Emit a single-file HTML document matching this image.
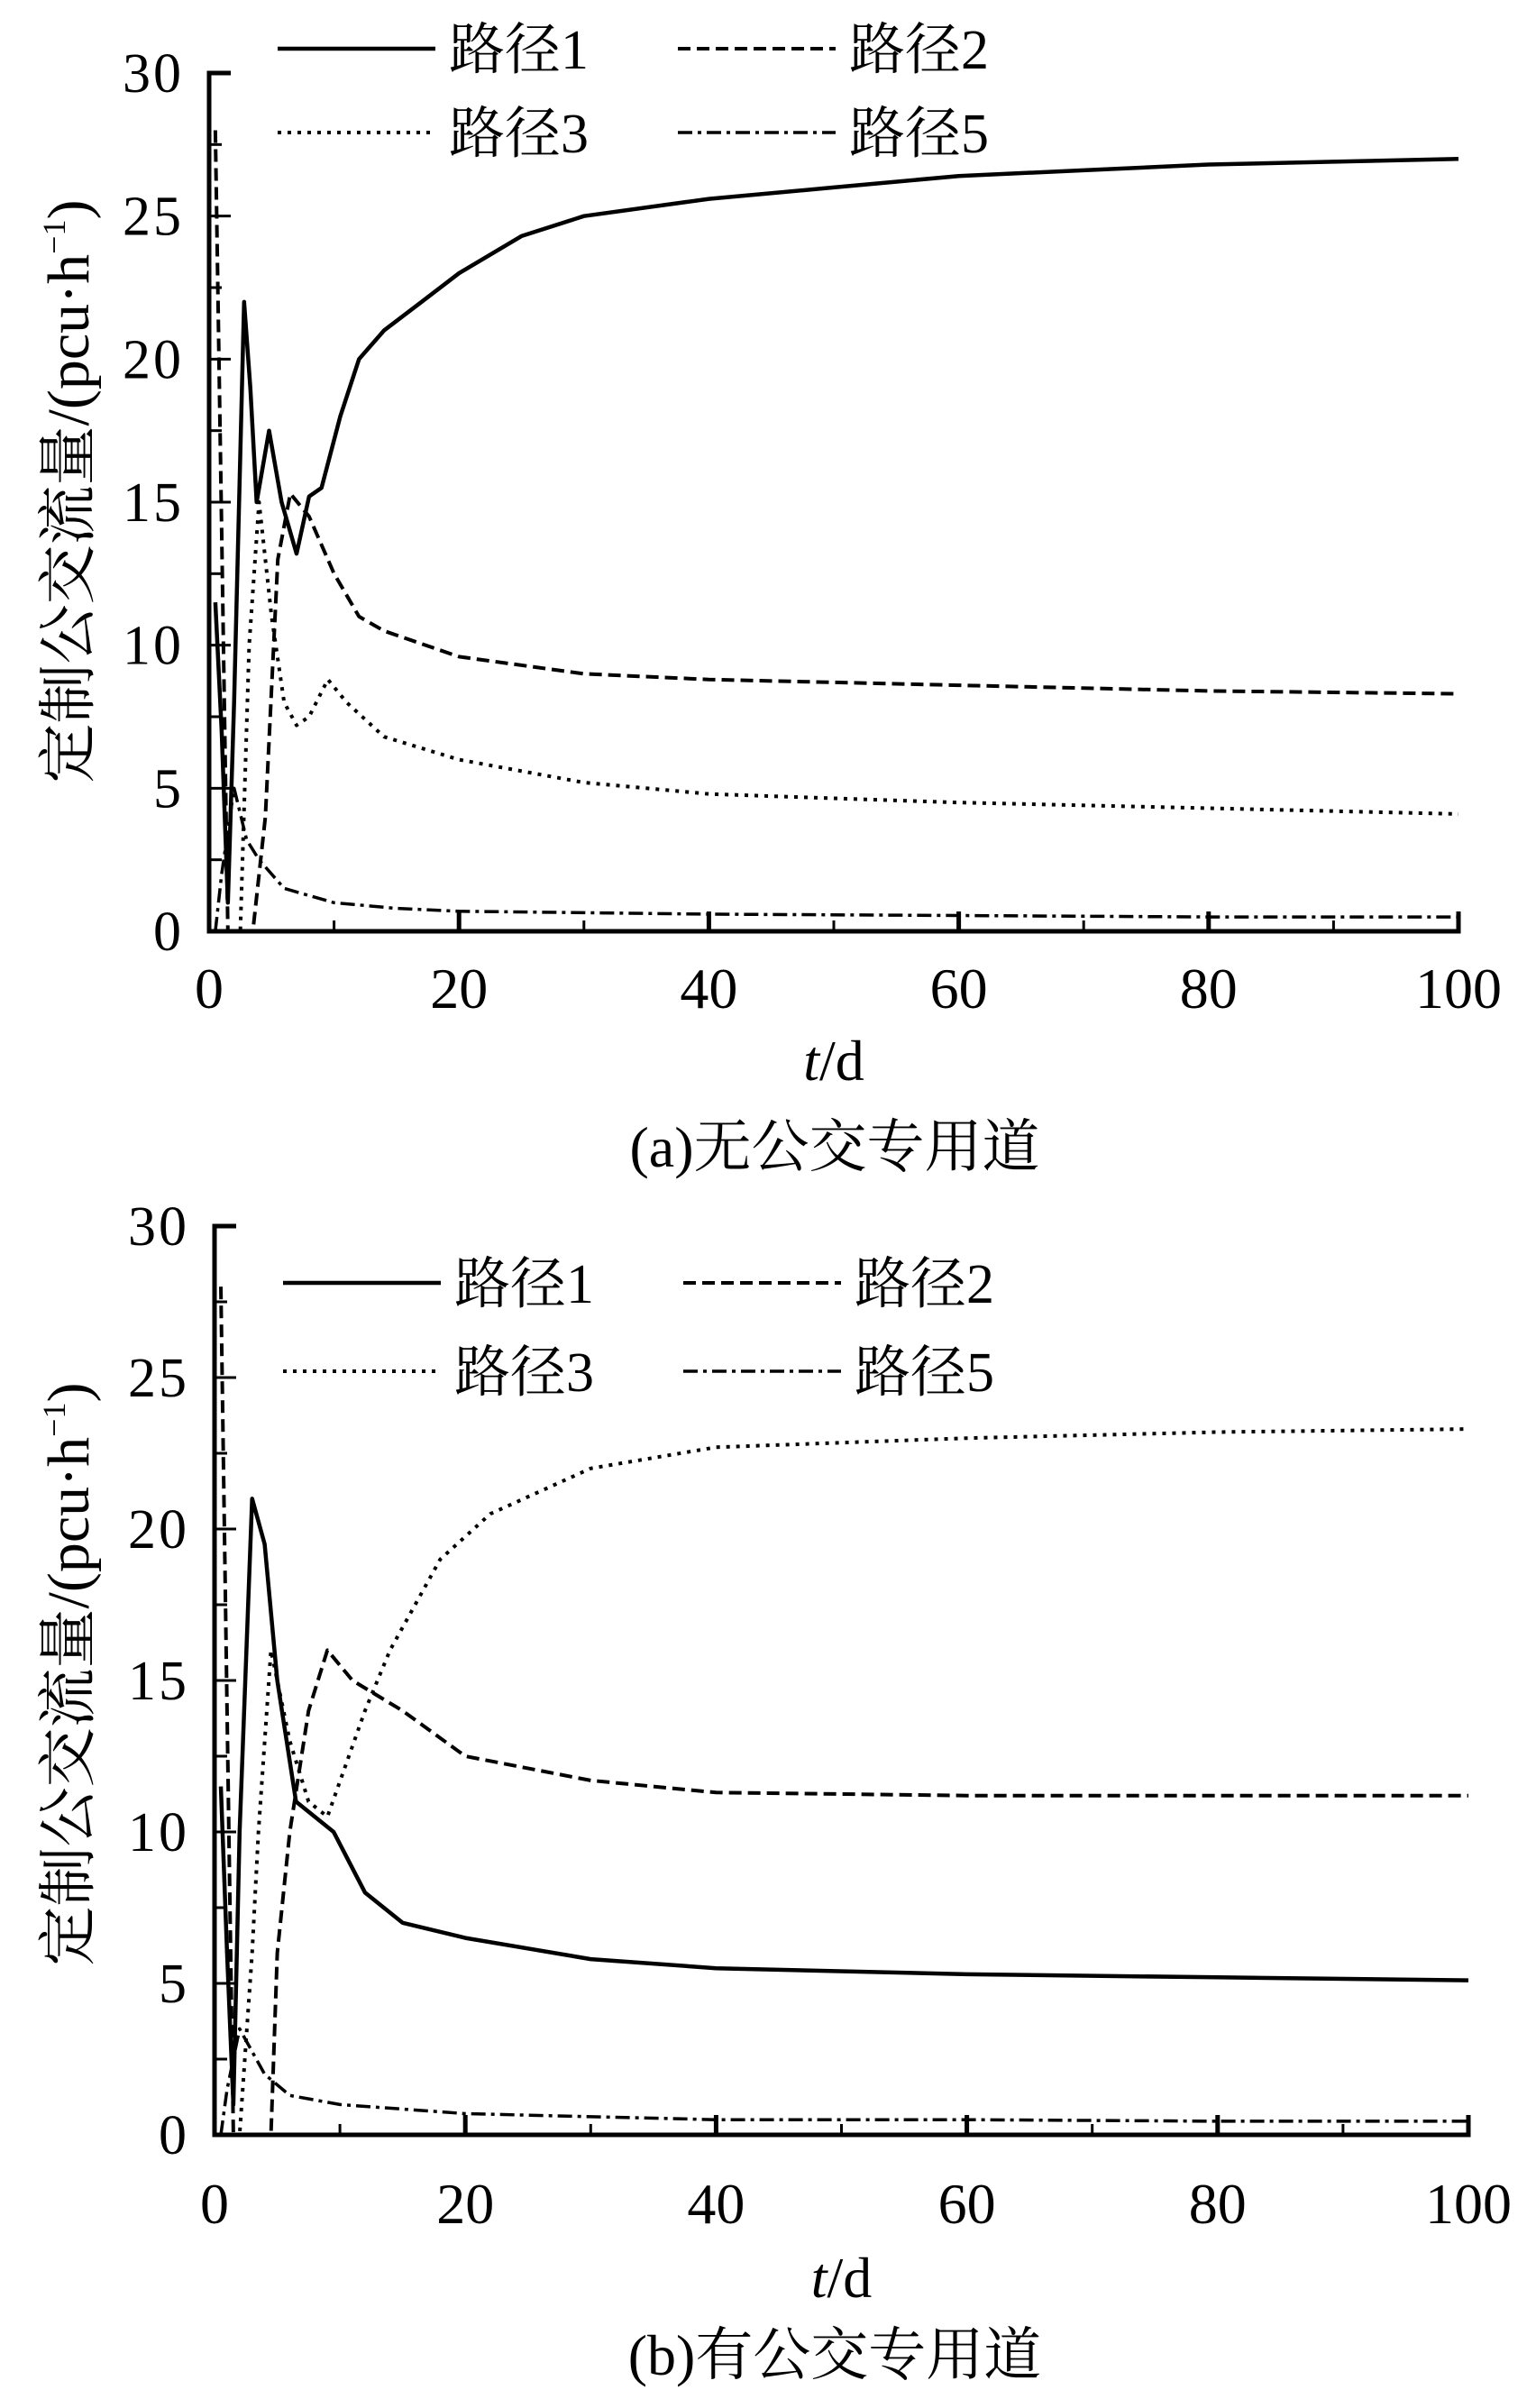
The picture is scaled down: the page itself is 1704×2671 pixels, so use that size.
<!DOCTYPE html>
<html><head><meta charset="utf-8"><style>
body{margin:0;background:#fff;}
svg{display:block;font-family:"Liberation Serif","Noto Serif CJK SC","Noto Sans CJK SC",serif;}
</style></head><body>
<svg id="chart" width="1704" height="2671" viewBox="0 0 1704 2671" xmlns="http://www.w3.org/2000/svg"></svg>
<script>
// Panel (a) data
const a_path1_t=[0.5,1,1.5,2,2.8,3.3,3.8,4.8,5.8,7,8,9,10.5,12,14,17,20,25,30,40,50,60,70,80,90,100];
const a_path1_v=[11.5,7,1,8,22,19,15,17.5,15,13.2,15.2,15.5,18,20,21,22,23,24.3,25,25.6,26,26.4,26.6,26.8,26.9,27];
const a_path2_t=[0.5,1,1.5,2,3.5,4.5,5.5,6.5,8,10,12,14,20,30,40,60,80,100];
const a_path2_v=[28,14,0,0,0,4,13,15.3,14.5,12.5,11,10.5,9.6,9,8.8,8.6,8.4,8.3];
const a_path3_t=[1,1.5,2.5,3.2,4,5,6,7,8,9.5,11,14,20,30,40,60,80,100];
const a_path3_v=[0,0,0,10,15,11,8,7.2,7.5,8.8,8,6.8,6,5.2,4.8,4.5,4.3,4.1];
const a_path5_t=[0.5,1,2,3,4,6,10,15,20,40,60,80,100];
const a_path5_v=[0,2,5,3.2,2.5,1.5,1.0,0.8,0.7,0.6,0.55,0.5,0.5];
// Panel (b) data
const b_path1_t=[0.5,1,1.5,2,3,4,5,6.5,8,9.5,12,15,20,30,40,60,80,100];
const b_path1_v=[11.5,6,1,10,21,19.5,15,11,10.5,10,8,7,6.5,5.8,5.5,5.3,5.2,5.1];
const b_path2_t=[0.5,1,1.5,2,4.5,5,6,7.5,9,11,15,20,30,40,60,80,100];
const b_path2_v=[28,14,0,0,0,6,10,14,16,15,14,12.5,11.7,11.3,11.2,11.2,11.2];
const b_path3_t=[1.5,2,3,3.5,4.5,6,7.5,9,12,14,18,22,30,40,60,80,100];
const b_path3_v=[0,0,6,10,16,13,11,10.5,14,16,19,20.5,22,22.7,23,23.2,23.3];
const b_path5_t=[0.5,1,2,4,6,10,20,40,60,80,100];
const b_path5_v=[0,1.5,3.5,2,1.3,1.0,0.7,0.5,0.5,0.45,0.45];
const xTicks=[0,20,40,60,80,100];
const yTicks=[0,5,10,15,20,25,30];
const seriesNames=["路径1","路径2","路径3","路径5"];

const NS="http://www.w3.org/2000/svg";
const svg=document.getElementById('chart');
function mk(tag,attrs,parent,text){const e=document.createElementNS(NS,tag);for(const k in attrs)e.setAttribute(k,attrs[k]);if(text!==undefined)e.textContent=text;(parent||svg).appendChild(e);return e;}
const styles=[{w:4.5,d:""},{w:4,d:"14,7"},{w:4,d:"4,7"},{w:3.5,d:"16,6,4,6"}];

function panel(id,cfg,series){
  const g=mk('g',{});
  
  
  const X=t=>cfg.x0+(cfg.x100-cfg.x0)*t/100;
  const Y=v=>cfg.y0+(cfg.y30-cfg.y0)*v/30;
  const ax=mk('path',{d:`M${X(0)+24},${Y(30)}H${X(0)}V${Y(0)}H${X(100)}V${Y(0)-22}`,stroke:'#000','stroke-width':5,fill:'none'},g);
  
  
  for(let v=0;v<=30;v+=2.5){mk('line',{x1:X(0),x2:X(0)+(v%5===0?24:14),y1:Y(v),y2:Y(v),stroke:'#000','stroke-width':3},g);}
  for(let t=10;t<=100;t+=10){mk('line',{x1:X(t),x2:X(t),y1:Y(0),y2:Y(0)-(t%20===0?22:12),stroke:'#000','stroke-width':(t%20===0?5:3)},g);}
  yTicks.forEach(v=>{const e=mk('text',{x:X(0)-28,y:Y(v)+21,'text-anchor':'end','font-size':62,'letter-spacing':'3'},g,String(v));
    
    });
  xTicks.forEach(t=>{const e=mk('text',{x:X(t),y:cfg.xlabY,'text-anchor':'middle','font-size':64},g,String(t));
    
    });
  const xt=mk('text',{x:(X(0)+X(100))/2,y:cfg.xtitleY,'text-anchor':'middle','font-size':64},g);
  xt.innerHTML='<tspan font-style="italic">t</tspan>/d';
  
  
  const yt=mk('text',{transform:`translate(98,${cfg.ytitleY}) rotate(-90)`,'text-anchor':'middle','font-size':66},g);
  yt.innerHTML='定制公交流量/(pcu·h<tspan font-size="36" dy="-26">−1</tspan><tspan dy="26">)</tspan>';
  
  
  const cap=mk('text',{x:cfg.capX,y:cfg.capY,'text-anchor':'middle','font-size':64},g,cfg.caption);
  
  
  series.forEach((s,i)=>{
    const d=s[0].map((t,k)=>(k?'L':'M')+X(t).toFixed(1)+','+Y(s[1][k]).toFixed(1)).join('');
    const p=mk('path',{d:d,fill:'none',stroke:'#000','stroke-width':styles[i].w,'stroke-dasharray':styles[i].d,'stroke-linejoin':'round'},g);
    
    
  });
  const pos=[[cfg.lx1,cfg.ly1],[cfg.lx2,cfg.ly1],[cfg.lx1,cfg.ly2],[cfg.lx2,cfg.ly2]];
  seriesNames.forEach((n,i)=>{
    const [lx,ly]=pos[i];
    const lg=mk('g',{},g);
    
    
    mk('line',{x1:lx,x2:lx+175,y1:ly,y2:ly,stroke:'#000','stroke-width':styles[i].w,'stroke-dasharray':styles[i].d},lg);
    mk('text',{x:lx+190,y:ly+22,'font-size':62},lg,n);
  });
}
panel('panel-a',{x0:232,x100:1618,y0:1033,y30:81,xlabY:1118,xtitleY:1198,ytitleY:545,capX:926,capY:1294,caption:'(a)无公交专用道',lx1:308,lx2:752,ly1:54,ly2:147},
 [[a_path1_t,a_path1_v],[a_path2_t,a_path2_v],[a_path3_t,a_path3_v],[a_path5_t,a_path5_v]]);
panel('panel-b',{x0:238,x100:1629,y0:2368,y30:1360,xlabY:2466,xtitleY:2548,ytitleY:1857,capX:926,capY:2634,caption:'(b)有公交专用道',lx1:314,lx2:758,ly1:1423,ly2:1521},
 [[b_path1_t,b_path1_v],[b_path2_t,b_path2_v],[b_path3_t,b_path3_v],[b_path5_t,b_path5_v]]);
</script>
</body></html>
